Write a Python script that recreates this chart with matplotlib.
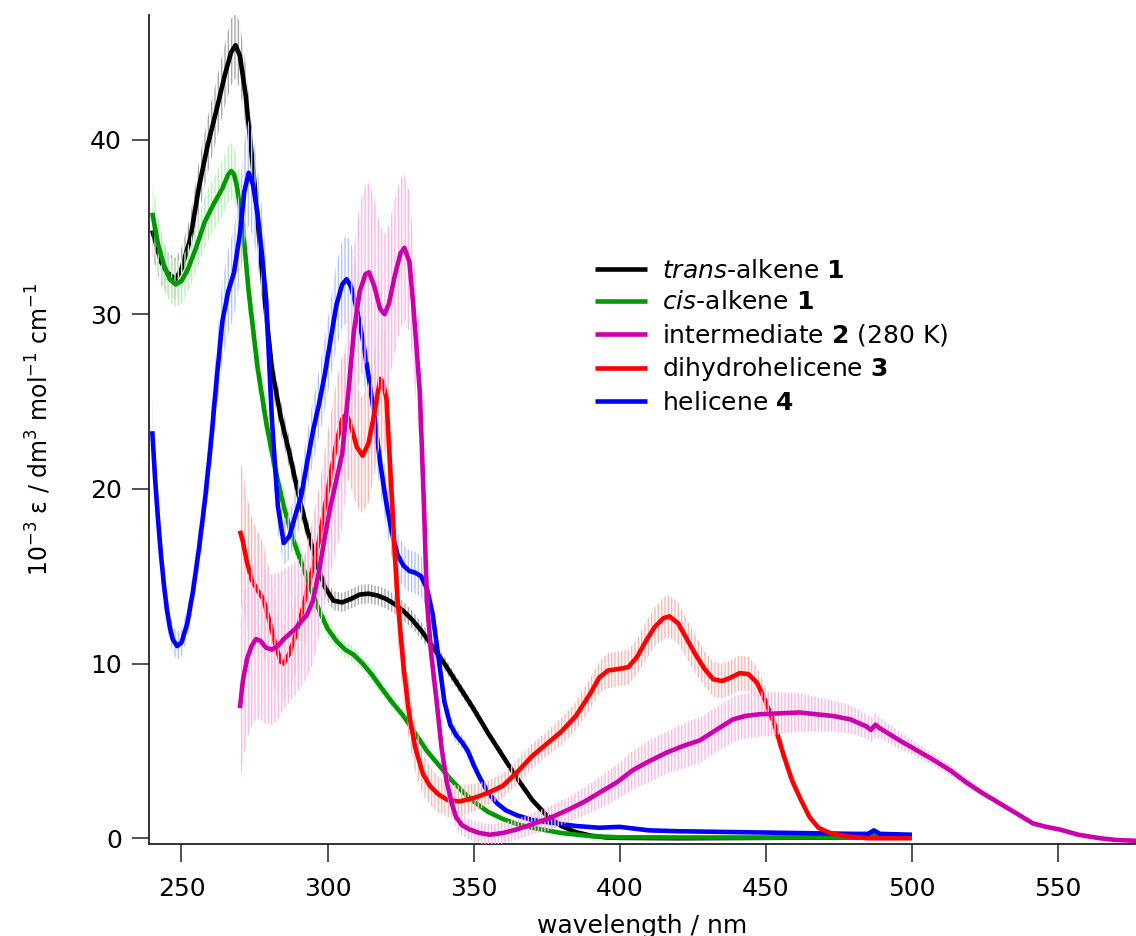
import matplotlib
matplotlib.use("Agg")
import matplotlib.pyplot as plt
import numpy as np

# UV-vis absorption spectra: columns are wavelength (nm), 1e-3*eps, error
trans_alkene = np.array([
    [240, 34.8, 1.5], [243, 33.0, 1.3], [245, 32.4, 1.2], [248, 32.0, 1.2],
    [250, 32.6, 1.2], [253, 34.3, 1.3], [256, 37.3, 1.5], [259, 39.7, 1.6],
    [262, 41.7, 1.7], [265, 43.8, 1.8], [267, 45.0, 1.9], [268.5, 45.4, 1.9],
    [270, 44.8, 1.9], [272, 42.5, 1.8], [275, 37.5, 1.6], [278, 31.6, 1.3],
    [281, 26.8, 1.1], [284, 24.1, 1.0], [287, 22.0, 0.9], [290, 19.7, 0.8],
    [293, 17.7, 0.7], [296, 15.9, 0.65], [299, 14.4, 0.6], [302, 13.6, 0.55],
    [305, 13.5, 0.55], [308, 13.7, 0.55], [311, 13.95, 0.55], [314, 14.0, 0.55],
    [317, 13.9, 0.55], [320, 13.7, 0.55], [323, 13.4, 0.55], [326, 13.0, 0.55],
    [329, 12.5, 0.5], [332, 11.9, 0.5], [335, 11.2, 0.45], [340, 10.0, 0.4],
    [345, 8.7, 0.35], [350, 7.4, 0.3], [355, 6.0, 0.25], [360, 4.7, 0.2],
    [365, 3.4, 0.15], [370, 2.2, 0.1], [375, 1.3, 0.08], [380, 0.7, 0.05],
    [385, 0.35, 0.03], [390, 0.15, 0.02], [395, 0.05, 0.02], [400, 0.02, 0.02],
    [420, 0.0, 0.02], [450, 0.02, 0.02], [480, 0.05, 0.02], [500, 0.05, 0.02],
])

cis_alkene = np.array([
    [240, 35.8, 1.8], [242, 34.0, 1.6], [244, 32.8, 1.4], [246, 32.0, 1.3],
    [248, 31.7, 1.3], [250, 31.9, 1.3], [252, 32.5, 1.3], [255, 33.8, 1.4],
    [258, 35.3, 1.5], [261, 36.3, 1.5], [264, 37.2, 1.6], [266, 38.0, 1.6],
    [267, 38.2, 1.6], [268, 38.0, 1.6], [269, 37.3, 1.6], [271, 35.0, 1.5],
    [273, 31.3, 1.4], [276, 27.0, 1.2], [279, 23.8, 1.0], [282, 21.2, 0.9],
    [285, 19.0, 0.8], [288, 17.2, 0.7], [291, 15.8, 0.65], [294, 14.4, 0.6],
    [297, 13.1, 0.55], [300, 12.0, 0.5], [303, 11.3, 0.45], [306, 10.8, 0.45],
    [309, 10.5, 0.45], [312, 10.0, 0.4], [315, 9.4, 0.4], [318, 8.7, 0.4],
    [322, 7.8, 0.35], [326, 7.0, 0.3], [330, 6.0, 0.3], [334, 5.0, 0.25],
    [338, 4.2, 0.2], [342, 3.4, 0.2], [346, 2.7, 0.15], [350, 2.1, 0.12],
    [355, 1.5, 0.1], [360, 1.1, 0.08], [365, 0.8, 0.06], [370, 0.6, 0.05],
    [375, 0.45, 0.04], [380, 0.3, 0.03], [390, 0.12, 0.02], [400, 0.05, 0.02],
    [450, 0.03, 0.02], [485, 0.05, 0.02], [487, 0.25, 0.02], [489, 0.05, 0.02],
    [500, 0.05, 0.02],
])

helicene = np.array([
    [240, 23.3, 1.9], [241, 20.5, 1.7], [242, 18.2, 1.5], [243, 16.2, 1.3],
    [244, 14.5, 1.1], [245, 13.1, 1.0], [246, 12.1, 0.9], [247, 11.4, 0.8],
    [248.5, 11.0, 0.8], [250, 11.2, 0.8], [252, 12.3, 0.9], [254, 14.2, 1.0],
    [256, 16.6, 1.2], [258, 19.3, 1.4], [260, 22.5, 1.7], [262, 26.2, 2.0],
    [264, 29.6, 2.3], [266, 31.3, 2.4], [268, 32.4, 2.5], [270, 34.6, 2.7],
    [271.5, 37.0, 2.9], [273, 38.1, 3.0], [274.5, 37.4, 3.0], [276, 35.8, 2.8],
    [277.5, 33.5, 2.6], [279, 30.8, 2.4], [281, 23.8, 1.9], [283, 19.0, 1.5],
    [285, 16.9, 1.3], [287, 17.3, 1.3], [289, 18.5, 1.4], [291, 19.6, 1.5],
    [293, 21.5, 1.7], [295, 23.3, 1.8], [297, 24.8, 1.9], [299, 26.5, 2.1],
    [301, 28.5, 2.2], [303, 30.5, 2.4], [305, 31.7, 2.5], [306.5, 32.0, 2.5],
    [308, 31.6, 2.5], [310, 30.3, 2.4], [312, 28.6, 2.2], [314, 26.5, 2.1],
    [316, 24.2, 1.9], [318, 21.5, 1.7], [320, 19.3, 1.5], [322, 17.5, 1.4],
    [324, 16.2, 1.3], [326, 15.6, 1.2], [328, 15.3, 1.2], [330, 15.2, 1.2],
    [332, 15.0, 1.2], [334, 14.3, 1.1], [336, 12.8, 1.0], [338, 10.3, 0.8],
    [340, 7.8, 0.6], [342, 6.5, 0.5], [344, 5.9, 0.45], [346, 5.5, 0.4],
    [348, 5.0, 0.4], [350, 4.2, 0.35], [352, 3.5, 0.3], [355, 2.6, 0.2],
    [358, 2.0, 0.15], [361, 1.6, 0.12], [365, 1.3, 0.1], [370, 1.05, 0.08],
    [376, 0.9, 0.07], [385, 0.7, 0.06], [393, 0.6, 0.05], [400, 0.65, 0.05],
    [405, 0.55, 0.05], [410, 0.45, 0.05], [420, 0.4, 0.05], [440, 0.35, 0.05],
    [460, 0.3, 0.05], [480, 0.25, 0.05], [485, 0.25, 0.05], [487, 0.45, 0.05],
    [489, 0.25, 0.05], [500, 0.2, 0.05],
])

dihydrohelicene = np.array([
    [270, 17.6, 4.1], [271, 17.0, 4.0], [272.3, 15.9, 3.8], [274, 14.8, 3.6],
    [276, 14.2, 3.4], [278, 13.7, 3.2], [280, 12.5, 2.9], [282, 11.2, 2.5],
    [284, 10.1, 2.2], [285, 10.0, 2.1], [287, 10.6, 2.1], [289, 11.6, 2.2],
    [291, 12.8, 2.4], [293, 14.2, 2.6], [295, 15.5, 2.8], [297, 17.0, 3.0],
    [299, 18.9, 3.2], [301, 20.8, 3.4], [303, 22.6, 3.5], [305, 24.0, 3.6],
    [306.5, 24.3, 3.6], [308, 23.6, 3.5], [310, 22.4, 3.4], [312, 21.9, 3.3],
    [314, 22.6, 3.4], [316, 24.3, 3.5], [318, 26.3, 3.6], [319, 26.1, 3.6],
    [320.2, 25.1, 3.5], [321, 22.5, 3.2], [322, 19.5, 2.9], [323, 16.3, 2.6],
    [324, 13.6, 2.3], [326, 9.8, 1.9], [328, 7.0, 1.6], [330, 5.2, 1.4],
    [332.6, 3.7, 1.2], [335, 3.0, 1.1], [338, 2.5, 1.0], [341, 2.2, 1.0],
    [345, 2.1, 0.9], [350, 2.3, 0.8], [355, 2.6, 0.7], [360, 3.0, 0.7],
    [365, 3.8, 0.7], [370, 4.7, 0.7], [375, 5.4, 0.7], [380, 6.1, 0.8],
    [385, 7.0, 0.8], [390, 8.3, 0.9], [393, 9.2, 0.9], [396, 9.6, 1.0],
    [400, 9.7, 1.0], [403, 9.8, 1.0], [406, 10.4, 1.0], [409, 11.3, 1.1],
    [412, 12.1, 1.1], [415, 12.6, 1.2], [417, 12.7, 1.2], [420, 12.3, 1.2],
    [423, 11.4, 1.1], [426, 10.5, 1.1], [429, 9.7, 1.0], [432, 9.1, 1.0],
    [435, 9.0, 1.0], [438, 9.2, 1.0], [441, 9.45, 1.0], [444, 9.4, 1.0],
    [447, 8.9, 0.9], [450, 7.8, 0.8], [453, 6.5, 0.7], [456, 4.8, 0.5],
    [459, 3.3, 0.35], [462, 2.2, 0.25], [465, 1.2, 0.15], [468, 0.6, 0.1],
    [472, 0.3, 0.05], [478, 0.1, 0.05], [485, 0.0, 0.05], [500, 0.0, 0.05],
])

intermediate = np.array([
    [270, 7.45, 4.5], [271, 9.0, 4.6], [272.5, 10.3, 4.6], [274, 11.0, 4.6],
    [275.5, 11.4, 4.6], [277, 11.3, 4.5], [279, 10.9, 4.4], [281, 10.8, 4.3],
    [283, 11.0, 4.2], [285, 11.4, 4.0], [287, 11.7, 3.9], [289, 12.0, 3.8],
    [291, 12.4, 3.7], [293, 12.8, 3.6], [295, 13.6, 3.6], [297, 15.2, 3.7],
    [299, 17.2, 3.8], [301, 19.0, 3.9], [303, 20.5, 4.0], [305, 22.0, 4.2],
    [307, 25.3, 4.5], [309, 29.0, 4.8], [311, 31.3, 5.0], [313, 32.3, 5.1],
    [314.2, 32.4, 5.1], [316, 31.6, 5.0], [318, 30.3, 4.8], [319.5, 30.0, 4.6],
    [321, 30.6, 4.5], [323, 32.2, 4.4], [325, 33.5, 4.3], [326.3, 33.8, 4.2],
    [328, 33.0, 4.0], [329.2, 30.8, 3.7], [330.5, 28.0, 3.4], [331.6, 25.5, 3.0],
    [333, 19.0, 2.3], [334, 13.6, 1.7], [335.5, 10.5, 1.4], [337.3, 7.9, 1.1],
    [339, 5.2, 0.9], [340.7, 3.3, 0.8], [342.5, 2.0, 0.7], [344, 1.2, 0.6],
    [346, 0.75, 0.6], [348.6, 0.5, 0.6], [352, 0.3, 0.6], [355.5, 0.2, 0.6],
    [360, 0.3, 0.6], [364.7, 0.5, 0.6], [370, 0.8, 0.6], [376, 1.15, 0.7],
    [382, 1.6, 0.7], [388, 2.1, 0.8], [393, 2.6, 0.9], [399, 3.2, 1.0],
    [404.5, 3.9, 1.1], [410, 4.4, 1.2], [416, 4.9, 1.2], [422, 5.3, 1.3],
    [427.4, 5.6, 1.3], [433, 6.2, 1.3], [438.7, 6.8, 1.3], [443, 7.0, 1.3],
    [448, 7.1, 1.3], [455, 7.15, 1.2], [461.6, 7.2, 1.1], [467, 7.1, 1.0],
    [473, 7.0, 0.9], [479, 6.8, 0.8], [484.4, 6.4, 0.7], [486, 6.2, 0.7],
    [487.5, 6.5, 0.7], [489, 6.3, 0.6], [495.8, 5.6, 0.5], [501, 5.1, 0.4],
    [507.2, 4.5, 0.35], [513, 3.9, 0.3], [518.6, 3.2, 0.25], [524, 2.6, 0.2],
    [530, 2.0, 0.15], [536, 1.4, 0.12], [541.4, 0.85, 0.1], [546, 0.65, 0.08],
    [550.6, 0.5, 0.06], [557, 0.2, 0.05], [564.3, 0.0, 0.05], [570, -0.1, 0.05],
    [577, -0.15, 0.05],
])

labels = [r'$\mathit{trans}$-alkene $\mathbf{1}$',
          r'$\mathit{cis}$-alkene $\mathbf{1}$',
          r'intermediate $\mathbf{2}$ (280 K)',
          r'dihydrohelicene $\mathbf{3}$',
          r'helicene $\mathbf{4}$']

plt.rcParams['font.family'] = 'DejaVu Sans'
plt.rcParams['font.size'] = 18
plt.rcParams['hatch.linewidth'] = 1.0

fig = plt.figure(figsize=(11.36, 9.36), dpi=100)
ax = fig.add_axes([0.1312, 0.0983, 0.8688, 0.8857])

# (data, line colour, error colour, legend slot) in drawing order
traces = [
    (trans_alkene, '#000000', '#a8a8a8', 0),
    (cis_alkene, '#009900', '#b6f2b6', 1),
    (helicene, '#0000ff', '#b4c4ff', 4),
    (dihydrohelicene, '#ff0000', '#ffb4b4', 3),
    (intermediate, '#cc00aa', '#ffb6e8', 2),
]

handles = [None] * 5
z = 1
for data, col, ecol, slot in traces:
    x, y, e = data[:, 0], data[:, 1], data[:, 2]
    ax.fill_between(x, y - e, y + e, facecolor='none', edgecolor=ecol,
                    hatch='|||||', linewidth=0, zorder=z)
    line, = ax.plot(x, y, color=col, lw=3.3, solid_joinstyle='round',
                    solid_capstyle='butt', zorder=z + 1)
    handles[slot] = line
    z += 2

ax.set_xlim(238.9, 576.7)
ax.set_ylim(-0.33, 47.13)
ax.set_xticks([250, 300, 350, 400, 450, 500, 550])
ax.set_yticks([0, 10, 20, 30, 40])

for side in ['top', 'right']:
    ax.spines[side].set_visible(False)
for side in ['left', 'bottom']:
    ax.spines[side].set_color('#222222')
    ax.spines[side].set_linewidth(1.3)
ax.tick_params(axis='x', direction='out', length=13, width=1.1, pad=10.5, color='#222222')
ax.tick_params(axis='y', direction='out', length=12.5, width=1.1, pad=7, color='#222222')

ax.set_xlabel('wavelength / nm')
ax.xaxis.set_label_coords(0.5, -0.0844)
ax.set_ylabel(r'10$^{-3}$ ε / dm$^{3}$ mol$^{-1}$ cm$^{-1}$', fontsize=17)
ax.yaxis.set_label_coords(-0.0973, 0.5)

ax.legend(handles, labels, loc='upper left', bbox_to_anchor=(0.5238, 0.7235),
          bbox_transform=fig.transFigure, frameon=False, borderpad=0,
          borderaxespad=0, handlelength=2.08, handletextpad=0.6,
          labelspacing=0.3, fontsize=18)

fig.savefig('out.png', dpi=100)
